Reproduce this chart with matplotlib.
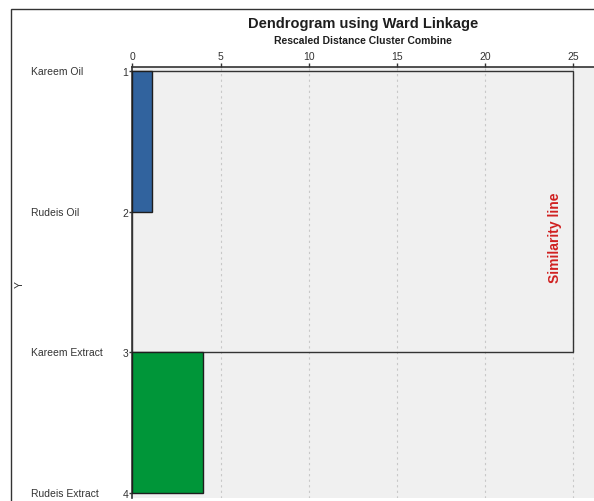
import matplotlib
matplotlib.use("Agg")
import matplotlib.pyplot as plt
from matplotlib.patches import Rectangle
from matplotlib.transforms import blended_transform_factory

# data
case_labels = ["Kareem Oil", "Rudeis Oil", "Kareem Extract", "Rudeis Extract"]
case_numbers = [1, 2, 3, 4]
x_ticks = [0, 5, 10, 15, 20, 25]

# merges: (first case, second case, rescaled distance, colour)
merge_from = [1, 3]
merge_to = [2, 4]
merge_dist = [1.1, 4.0]
merge_colors = ["#31639e", "#009639"]

# final link joining the two clusters
final_top = 1
final_bottom = 3
final_dist = 25

plt.rcParams['font.family'] = ['Liberation Sans', 'DejaVu Sans']

fig = plt.figure(figsize=(5.94, 5.02), dpi=100)
fig.patch.set_facecolor("white")

# outer frame round the whole chart
fig.patches.append(Rectangle((0.0185, -0.05), 1.2, 1.03, transform=fig.transFigure,
                             fill=False, edgecolor="#333333", linewidth=1.0))

ax = fig.add_axes([0.223, 0.006, 0.78, 0.8585])
ax.set_facecolor("#f0f0f0")

for xv in x_ticks[1:]:
    ax.axvline(xv, color="#c8c8c8", linestyle=(0, (2, 3)), linewidth=0.8, zorder=1)

# outline of the last merge
ax.add_patch(Rectangle((0, final_top), final_dist, final_bottom - final_top,
                       fill=False, edgecolor="#333333", linewidth=1.0, zorder=2))

for a, b, d, c in zip(merge_from, merge_to, merge_dist, merge_colors):
    ax.add_patch(Rectangle((0, a), d, b - a, facecolor=c, edgecolor="#1e1e1e",
                           linewidth=1.0, zorder=3))

ax.set_xlim(0, 26.3)
ax.set_ylim(4.035, 0.97)

ax.xaxis.tick_top()
ax.set_xticks(x_ticks)
ax.set_xticklabels([str(v) for v in x_ticks], fontsize=7.5, color="#333333")
ax.tick_params(axis="x", length=3, width=1, pad=1, color="#333333")

ax.set_yticks(case_numbers)
ax.set_yticklabels([str(v) for v in case_numbers], fontsize=7.5, color="#333333")
ax.tick_params(axis="y", length=2, width=1, pad=1, color="#333333")

for side in ["right", "bottom"]:
    ax.spines[side].set_visible(False)
for side in ["left", "top"]:
    ax.spines[side].set_color("#333333")
    ax.spines[side].set_linewidth(1.2)

# case names at the left, x in figure fraction, y in data
name_trans = blended_transform_factory(fig.transFigure, ax.transData)
for lab, n in zip(case_labels, case_numbers):
    ax.text(0.052, n, lab, transform=name_trans, fontsize=7.5,
            color="#333333", va="center", ha="left", clip_on=False)

fig.text(0.034, 0.434, "Y", rotation=90, fontsize=7.5, color="#333333",
         ha="center", va="center")

fig.text(0.611, 0.953, "Dendrogram using Ward Linkage", fontsize=10.5,
         fontweight="bold", ha="center", va="center", color="#1e1e1e")
fig.text(0.611, 0.918, "Rescaled Distance Cluster Combine", fontsize=7.5,
         fontweight="bold", ha="center", va="center", color="#1e1e1e")

ax.text(24.0, 2.18, "Similarity line", rotation=90, fontsize=10,
        fontweight="bold", color="#d02020", ha="center", va="center", zorder=4)

fig.savefig("out.png", dpi=100)
